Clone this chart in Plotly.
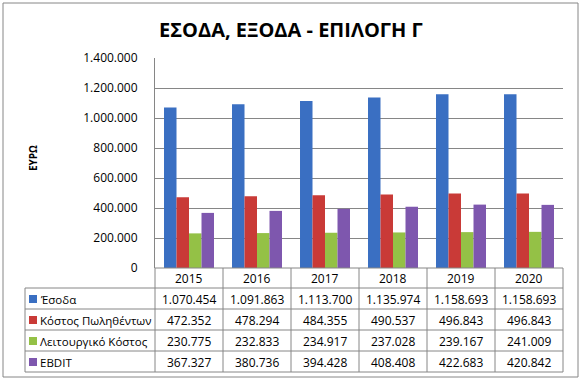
import plotly.graph_objects as go

years = ["2015", "2016", "2017", "2018", "2019", "2020"]
series_names = ["Έσοδα", "Κόστος Πωληθέντων", "Λειτουργικό Κόστος", "EBDIT"]
esoda = [1070454, 1091863, 1113700, 1135974, 1158693, 1158693]
kostos_pol = [472352, 478294, 484355, 490537, 496843, 496843]
leit_kostos = [230775, 232833, 234917, 237028, 239167, 241009]
ebdit = [367327, 380736, 394428, 408408, 422683, 420842]
y_ticks = [0, 200000, 400000, 600000, 800000, 1000000, 1200000, 1400000]
title_text = "ΕΣΟΔΑ, ΕΞΟΔΑ - ΕΠΙΛΟΓΗ Γ"
y_title = "ΕΥΡΩ"

series_values = [esoda, kostos_pol, leit_kostos, ebdit]
colors = ["#3A6FC2", "#C93A37", "#94C146", "#7E57AE"]

W, H = 582, 379
L, R, T, B = 155, 563, 58, 268  # plot area in pixels
FONT = "Open Sans"
GRID = "#868686"


def px(x):
    return (x - L) / (R - L)


def py(y):
    return (B - y) / (B - T)


def fmt(v):
    return f"{v:,}".replace(",", ".")


fig = go.Figure()
for name, vals, col in zip(series_names, series_values, colors):
    fig.add_trace(go.Bar(x=years, y=vals, name=name, marker_color=col,
                         marker_line_width=0, hoverinfo="skip"))

shapes = []
annotations = []
line = dict(color=GRID, width=1)

# outer border
shapes.append(dict(type="rect", xref="paper", yref="paper",
                   x0=px(3), x1=px(578), y0=py(3), y1=py(377), line=line))

# table lines
row_lines = [288, 309, 330, 351, 372]
shapes.append(dict(type="line", xref="paper", yref="paper",
                   x0=px(L), x1=px(R), y0=py(268), y1=py(268), line=line))
for yl in row_lines:
    shapes.append(dict(type="line", xref="paper", yref="paper",
                       x0=px(25), x1=px(R), y0=py(yl), y1=py(yl), line=line))
shapes.append(dict(type="line", xref="paper", yref="paper",
                   x0=px(25), x1=px(25), y0=py(288), y1=py(372), line=line))
ncat = len(years)
colw = (R - L) / ncat
for k in range(ncat + 1):
    xx = L + colw * k
    shapes.append(dict(type="line", xref="paper", yref="paper",
                       x0=px(xx), x1=px(xx), y0=py(268), y1=py(372), line=line))

# header row (years)
for j, yr in enumerate(years):
    annotations.append(dict(x=j, y=py(278.5), xref="x", yref="paper",
                            text=yr, showarrow=False, xanchor="center", yanchor="middle",
                            font=dict(family=FONT, size=12, color="#000000")))

# data rows
for i, (name, vals, col) in enumerate(zip(series_names, series_values, colors)):
    yc = (row_lines[i] + row_lines[i + 1]) / 2 + 0.5
    shapes.append(dict(type="rect", xref="paper", yref="paper",
                       x0=px(29), x1=px(37), y0=py(yc - 4), y1=py(yc + 4),
                       fillcolor=col, line=dict(width=0)))
    annotations.append(dict(x=px(38), y=py(yc), xref="paper", yref="paper",
                            text=name, showarrow=False, xanchor="left", yanchor="middle",
                            font=dict(family=FONT, size=11.5, color="#000000")))
    for j, v in enumerate(vals):
        annotations.append(dict(x=j, y=py(yc), xref="x", yref="paper",
                                text=fmt(v), showarrow=False, xanchor="center", yanchor="middle",
                                font=dict(family=FONT, size=12, color="#000000")))

# y-axis title
annotations.append(dict(x=px(33), y=py(158), xref="paper", yref="paper",
                        text="<b>" + y_title + "</b>", textangle=-90, showarrow=False,
                        xanchor="center", yanchor="middle",
                        font=dict(family=FONT, size=10, color="#000000")))

# chart title
annotations.append(dict(x=px(291), y=py(29), xref="paper", yref="paper",
                        text="<b>" + title_text + "</b>", showarrow=False,
                        xanchor="center", yanchor="middle",
                        font=dict(family=FONT, size=20, color="#000000")))

fig.update_layout(
    width=W, height=H,
    margin=dict(l=L, r=W - R, t=T, b=H - B, pad=0),
    paper_bgcolor="white", plot_bgcolor="white",
    separators=",.",
    barmode="group", bargap=0.265, bargroupgap=0,
    showlegend=False,
    shapes=shapes, annotations=annotations,
    xaxis=dict(type="category", range=[-0.5, ncat - 0.5], autorange=False,
               showticklabels=False, showgrid=False, showline=False,
               zeroline=False, ticks=""),
    yaxis=dict(range=[0, 1400000], autorange=False, tickvals=y_ticks, tickformat=",d",
               showgrid=True, gridcolor=GRID, gridwidth=1,
               showline=True, linecolor=GRID, linewidth=1,
               zeroline=False, ticks="", ticklabelstandoff=14,
               tickfont=dict(family=FONT, size=12, color="#000000")),
)

fig.write_html("out.html", config={"displayModeBar": False},
               post_script="document.body.style.margin='0px';document.body.style.overflow='hidden';")
